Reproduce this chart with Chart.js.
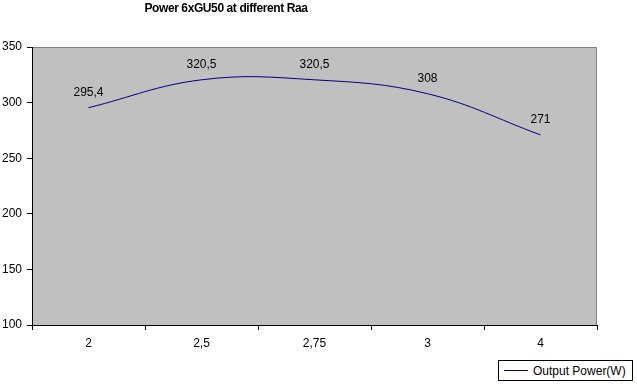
<!DOCTYPE html>
<html>
<head>
<meta charset="utf-8">
<script src="https://cdn.jsdelivr.net/npm/chart.js@4/dist/chart.umd.min.js"></script>
<style>
  html, body { margin: 0; padding: 0; background: #ffffff; }
  #wrap { position: relative; width: 637px; height: 384px; overflow: hidden; }
  #c { position: absolute; left: 0; top: 0; }
  #title { position: absolute; left: 126px; width: 200px; top: 1px; text-align: center;
           font: bold 12px "Liberation Sans", Arial, sans-serif; color: #000; white-space: nowrap; letter-spacing: -0.4px; }
  #legend { position: absolute; left: 498px; top: 360px; width: 135px; height: 21px;
            border: 1px solid #000; background: #fff; box-sizing: border-box;
            font: 12px "Liberation Sans", Arial, sans-serif; color: #000; white-space: nowrap; }
  #legend .ln { position: absolute; left: 5px; top: 9px; width: 24px; height: 0; border-top: 1px solid #000080; }
  #legend .tx { position: absolute; left: 34px; top: 3px; }
</style>
</head>
<body>
<div id="wrap">
  <canvas id="c" width="637" height="384"></canvas>
  <div id="title">Power 6xGU50 at different Raa</div>
  <div id="legend"><span class="ln"></span><span class="tx" id="legtext"></span></div>
</div>
<script>
const categories = ["2", "2,5", "2,75", "3", "4"];
const seriesName = "Output Power(W)";
const powerValues = [295.4, 320.5, 320.5, 308, 271];
const valueLabels = ["295,4", "320,5", "320,5", "308", "271"];
const yTicks = [100, 150, 200, 250, 300, 350];

document.getElementById('legtext').textContent = seriesName;

const plotBg = {
  id: 'plotBg',
  beforeDraw(chart) {
    const { ctx, chartArea: a } = chart;
    ctx.save();
    ctx.fillStyle = '#c0c0c0';
    ctx.fillRect(a.left, a.top, a.right - a.left, a.bottom - a.top);
    ctx.strokeStyle = '#808080';
    ctx.lineWidth = 1;
    ctx.beginPath();
    ctx.moveTo(a.left, a.top + 0.5);
    ctx.lineTo(a.right - 0.5, a.top + 0.5);
    ctx.lineTo(a.right - 0.5, a.bottom);
    ctx.stroke();
    ctx.restore();
  }
};

const dataLabels = {
  id: 'dataLabels',
  afterDatasetsDraw(chart) {
    const { ctx } = chart;
    const meta = chart.getDatasetMeta(0);
    ctx.save();
    ctx.font = '12px "Liberation Sans", Arial, sans-serif';
    ctx.fillStyle = '#000';
    ctx.textAlign = 'center';
    ctx.textBaseline = 'bottom';
    meta.data.forEach((pt, i) => {
      ctx.fillText(valueLabels[i], pt.x, pt.y - 9);
    });
    ctx.restore();
  }
};

new Chart(document.getElementById('c'), {
  type: 'line',
  data: {
    labels: categories,
    datasets: [{
      label: seriesName,
      data: powerValues,
      borderColor: '#000080',
      borderWidth: 1,
      pointRadius: 0,
      tension: 0.4,
      fill: false
    }]
  },
  options: {
    responsive: false,
    animation: false,
    devicePixelRatio: 1,
    layout: { padding: { top: 47, right: 40, left: 0, bottom: 29 } },
    plugins: {
      legend: { display: false },
      title: { display: false },
      tooltip: { enabled: false }
    },
    scales: {
      x: {
        type: 'category',
        offset: true,
        grid: { offset: true, drawOnChartArea: false, drawTicks: true, tickLength: 5, color: '#000' },
        border: { display: true, color: '#000', width: 1 },
        ticks: { color: '#000', padding: 6, maxRotation: 0,
                 font: { family: '"Liberation Sans", Arial, sans-serif', size: 12 } },
        afterFit(scale) { scale.height = 30; }
      },
      y: {
        min: 100, max: 350,
        afterBuildTicks(scale) { scale.ticks = yTicks.map(v => ({ value: v })); },
        grid: { drawOnChartArea: false, drawTicks: true, tickLength: 5, color: '#000' },
        border: { display: true, color: '#000', width: 1 },
        ticks: { color: '#000', padding: 5,
                 font: { family: '"Liberation Sans", Arial, sans-serif', size: 12 } },
        afterFit(scale) { scale.width = 32; }
      }
    }
  },
  plugins: [plotBg, dataLabels]
});
</script>
</body>
</html>
